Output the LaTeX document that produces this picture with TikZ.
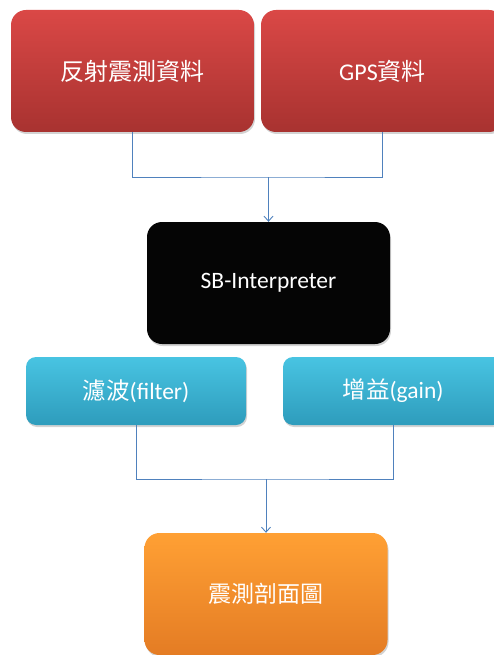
\documentclass[tikz,border=0pt]{standalone}
\usepackage{fontspec}
\setmainfont{Carlito}
\newfontfamily\cjkfont{Noto Sans CJK TC}
\usetikzlibrary{positioning,shadows,arrows.meta}
\definecolor{linkblue}{RGB}{79,129,189}
\tikzset{
  box/.style={rounded corners=15pt, minimum width=243pt, minimum height=122pt,
    text=white, align=center,
    drop shadow={opacity=0.35, shadow xshift=1pt, shadow yshift=-2pt}},
  redbox/.style={box, top color={rgb,255:red,218;green,72;blue,70},
    bottom color={rgb,255:red,168;green,50;blue,48}, font=\fontsize{24}{28}\selectfont},
  blackbox/.style={box, fill={rgb,255:red,5;green,5;blue,5}, font=\fontsize{23.5}{27}\selectfont},
  cyanbox/.style={box, rounded corners=10pt, minimum width=220pt, minimum height=68pt,
    top color={rgb,255:red,72;green,196;blue,226},
    bottom color={rgb,255:red,46;green,156;blue,188}, font=\fontsize{23.5}{27}\selectfont},
  orangebox/.style={box, top color={rgb,255:red,255;green,160;blue,52},
    bottom color={rgb,255:red,228;green,124;blue,36}, font=\fontsize{23}{27}\selectfont},
  link/.style={draw=linkblue, line width=0.9pt},
  arrowlink/.style={link, -{Straight Barb[length=5pt,width=9pt]}},
}
\begin{document}
\begin{tikzpicture}[x=1pt,y=-1pt]
\useasboundingbox (0,0) rectangle (494,655);
\clip (0,0) rectangle (494,655);
%%% input data
\node[redbox] (refl) at (132.5,71) {\cjkfont 反射震測資料};
\node[redbox] (gps) at (382.5,71) {GPS{\cjkfont 資料}};
%%% interpreter
\node[blackbox] (sb) at (268.5,283) {SB-Interpreter};
%%% processing
\node[cyanbox] (filt) at (136,391) {{\cjkfont 濾波}(filter)};
\node[cyanbox] (gain) at (393,391) {{\cjkfont 增益}(gain)};
%%% result
\node[orangebox] (prof) at (266,594) {\cjkfont 震測剖面圖};
%%% connectors
\coordinate (joinA) at (268.5,177);
\coordinate (joinB) at (266,479);
\draw[link] (refl.south) |- (joinA) -| (gps.south);
\draw[arrowlink] (joinA) -- (sb.north);
\draw[link] (filt.south) |- (joinB) -| (gain.south);
\draw[arrowlink] (joinB) -- (prof.north);
\end{tikzpicture}
\end{document}
